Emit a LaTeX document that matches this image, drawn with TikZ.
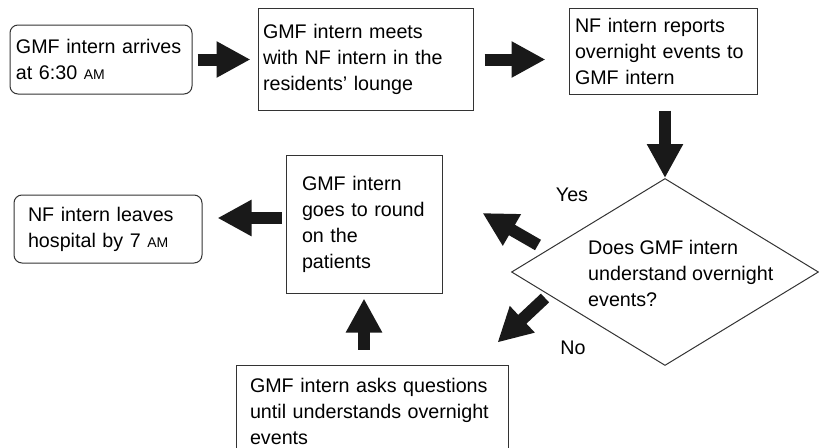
\documentclass[tikz,border=0pt]{standalone}
\usepackage{fontspec}
\setmainfont{Liberation Sans}
\usetikzlibrary{positioning,shapes.geometric,arrows.meta}
\newcommand{\smallam}{{\fontsize{14}{14}\selectfont AM}}
\tikzset{
  stepbox/.style={draw=black!80, line width=1pt, rectangle, align=left, inner ysep=0pt, font=\fontsize{19.7}{26}\selectfont},
  endbox/.style={stepbox, rounded corners=8pt},
  decide/.style={draw=black!80, line width=1pt, diamond, minimum width=307pt, minimum height=187pt, inner sep=0pt},
  plaintext/.style={align=left, inner sep=0pt, font=\fontsize{19.7}{26}\selectfont},
  fatarrow/.style={line width=12pt, draw=black!90, -{Triangle[length=34pt,width=34pt]}}
}
\begin{document}
\begin{tikzpicture}[x=1pt, y=-1pt]
\useasboundingbox (0,0) rectangle (819,447);
\clip (0,0) rectangle (819,447);
% top row
\node[endbox, text width=170pt, inner xsep=6pt, minimum height=69pt] (arrive) at (101,59.5) {GMF intern arrives\\at 6:30 \smallam};
\node[stepbox, text width=205pt, inner xsep=5pt, minimum height=102pt, node distance=264.5pt, right of=arrive] (meet) {GMF intern meets\\with NF intern in the\\residents' lounge};
\node[stepbox, text width=176pt, inner xsep=6pt, minimum height=86pt, node distance=297.5pt, right of=meet, yshift=8.5pt] (report) {NF intern reports\\overnight events to\\GMF intern};
% decision
\node[decide, node distance=221pt, below of=report, xshift=2pt] (question) {};
\node[plaintext, anchor=west] (questiontext) at ([xshift=-77pt, yshift=-1.5pt]question.center) {Does GMF intern\\understand overnight\\events?};
\node[plaintext] (yes) at (572,195) {Yes};
\node[plaintext] (no) at (573,348) {No};
% lower boxes
\node[stepbox, text width=124pt, inner xsep=16pt, minimum height=138pt, node distance=301pt, left of=question, yshift=48pt] (round) {GMF intern\\goes to round\\on the\\patients};
\node[endbox, text width=160pt, inner xsep=14pt, minimum height=68pt, node distance=256pt, left of=round, yshift=-5pt] (leave) {NF intern leaves\\hospital by 7 \smallam};
\node[stepbox, text width=244pt, inner xsep=14pt, minimum height=92pt, node distance=187pt, below of=round, xshift=8pt] (ask) {GMF intern asks questions\\until understands overnight\\events};
% arrows
\coordinate (roundout) at ([yshift=6pt]round.west);
\draw[fatarrow, shorten <=5pt, shorten >=7pt] (arrive.east) -- (arrive.east -| meet.west);
\draw[fatarrow, shorten <=11pt, shorten >=23pt] (meet.east) -- (meet.east -| report.west);
\draw[fatarrow, shorten <=16pt] (question.north |- report.south) -- (question.north);
\draw[fatarrow] ([shift={(27,-27)}]question.west) -- ([shift={(40,-11)}]round.east);
\draw[fatarrow] ([shift={(34,26)}]question.west) -- ([shift={(-11,-22)}]ask.north east);
\draw[fatarrow, shorten <=4pt, shorten >=15pt] (roundout) -- (roundout -| leave.east);
\draw[fatarrow, shorten <=15pt, shorten >=5pt] (round.south |- ask.north) -- (round.south);
\end{tikzpicture}
\end{document}
